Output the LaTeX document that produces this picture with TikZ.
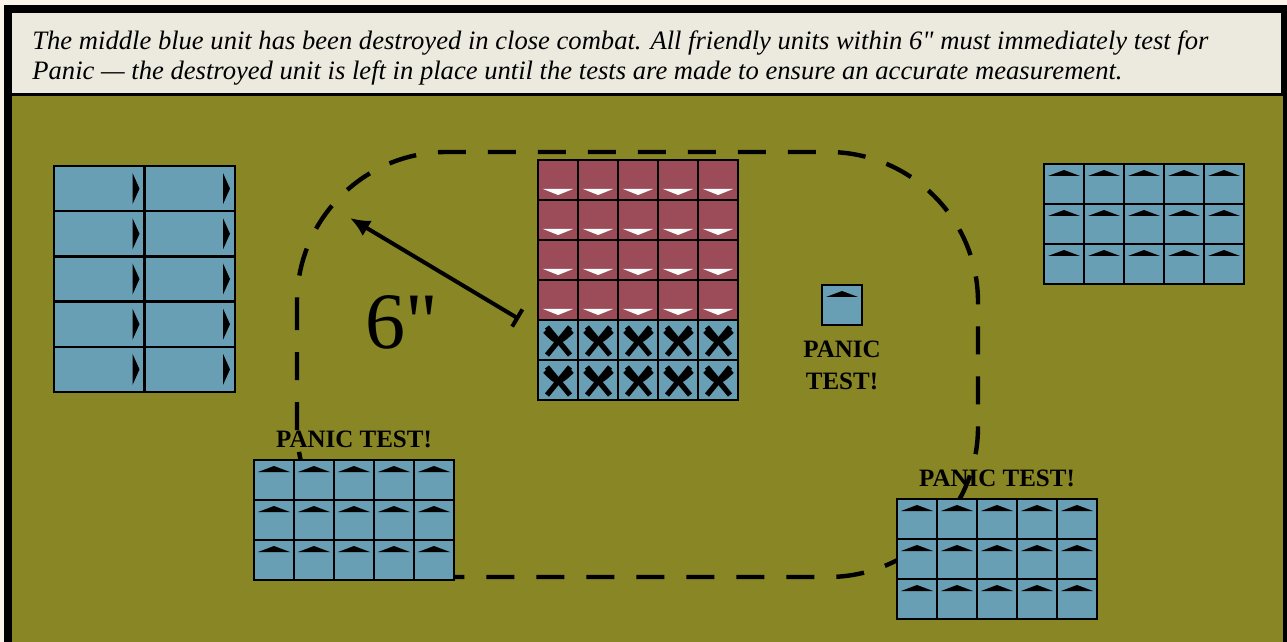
\documentclass[tikz,border=0pt]{standalone}
\usepackage{fontspec}
\setmainfont{Liberation Serif}[Ligatures=TeXOff]
\usetikzlibrary{%
    arrows.meta,%
    positioning%
    }
\definecolor{felt1}{RGB}{137,134,37}
\definecolor{paper1}{RGB}{236,233,223}
\definecolor{margin1}{RGB}{251,245,233}
\definecolor{blue1}{RGB}{104,159,180}
\definecolor{red1}{RGB}{156,76,88}
\tikzset{
  cell1/.style={
    draw=black,
    line width=1.3pt,
  },
  caption1/.style={
    font=\fontsize{13.3}{15}\selectfont\itshape,
    align=left,
    inner sep=0pt,
    anchor=north west,
  },
  panic1/.style={
    font=\fontsize{12.5}{16}\selectfont\bfseries,
    text=black,
    align=center,
    inner sep=0pt,
  },
  ring1/.style={
    dash pattern=on 14pt off 11pt,
    line width=2.2pt,
    rounded corners=75pt,
  },
  measure1/.style={
    {Bar[width=10pt]}-{Latex[length=10pt,width=9pt]},
    line width=2pt,
  },
  fallen1/.style={
    line width=2.6pt,
  },
}
% grid of cells: x, y (top left), cols, rows, width, height, fill
\newcommand{\cellgrid}[7]{%
  \foreach \c in {1,...,#3}{
    \foreach \r in {1,...,#4}{
      \draw[cell1,fill=#7]
        ({#1+(\c-1)*#5},{#2+(\r-1)*#6}) rectangle +(#5,#6);
    }
  }
}
% black wedges, facing up
\newcommand{\faceup}[4]{%
  \foreach \c in {1,...,#3}{
    \foreach \r in {1,...,#4}{
      \begin{scope}[shift={({#1+(\c-1)*40},{#2+(\r-1)*40})}]
        \fill (4,12) -- (36,12) -- (20,6) -- cycle;
      \end{scope}
    }
  }
}
% white wedges, facing down
\newcommand{\facedown}[4]{%
  \foreach \c in {1,...,#3}{
    \foreach \r in {1,...,#4}{
      \begin{scope}[shift={({#1+(\c-1)*40},{#2+(\r-1)*40})}]
        \fill[white] (5,29) -- (35,29) -- (20,35) -- cycle;
      \end{scope}
    }
  }
}
% black wedges, facing right (wide cells)
\newcommand{\faceright}[4]{%
  \foreach \c in {1,...,#3}{
    \foreach \r in {1,...,#4}{
      \begin{scope}[shift={({#1+\c*90.5},{#2+(\r-1)*45.2})}]
        \fill (-12,7) -- (-5,22.6) -- (-12,38.2) -- cycle;
      \end{scope}
    }
  }
}
% destroyed figures
\newcommand{\fallen}[4]{%
  \foreach \c in {1,...,#3}{
    \foreach \r in {1,...,#4}{
      \begin{scope}[shift={({#1+(\c-1)*40},{#2+(\r-1)*40})}]
        \draw[fallen1]
          (9,7) -- (32,35)
          (32,7) -- (9,35)
          (7,11) .. controls (20,24) .. (34,11);
      \end{scope}
    }
  }
}

\begin{document}
\begin{tikzpicture}[x=0.5pt,y=-0.5pt]
% frame
\fill[margin1] (0,0) rectangle (1287,642);
\fill[black] (4,5) rectangle (1287,642);
\fill[paper1] (12,13) rectangle (1281,93);
\fill[felt1] (12,96) rectangle (1283,642);
\useasboundingbox (0,0) rectangle (1287,642);

\node[caption1] 
  (caption) 
  at (32,30) 
  {The middle blue unit has been destroyed in close combat. All friendly units within 6" must immediately test for\\
   Panic — the destroyed unit is left in place until the tests are made to ensure an accurate measurement.};

% 6 inch zone
\draw[ring1]
  (297,152) rectangle (978,577);

\coordinate (reach) at (350,218);
\coordinate (redcorner) at (519,319);
\draw[measure1]
  (redcorner) -- (reach);
\node[font=\fontsize{40}{40}\selectfont,anchor=base] 
  (sixlabel) 
  at (402,349) 
  {6"};

% units
\cellgrid{54}{166}{2}{5}{90.5}{45.2}{blue1}
\faceright{54}{166}{2}{5}
\cellgrid{538}{160}{5}{4}{40}{40}{red1}
\facedown{538}{160}{5}{4}
\cellgrid{538}{320}{5}{2}{40}{40}{blue1}
\fallen{538}{320}{5}{2}
\cellgrid{1044}{164}{5}{3}{40}{40}{blue1}
\faceup{1044}{164}{5}{3}
\cellgrid{822}{285}{1}{1}{40}{40}{blue1}
\faceup{822}{285}{1}{1}
\cellgrid{254}{460}{5}{3}{40}{40}{blue1}
\faceup{254}{460}{5}{3}
\cellgrid{897}{499}{5}{3}{40}{40}{blue1}
\faceup{897}{499}{5}{3}

\coordinate (swunit) at (354,460);
\coordinate (seunit) at (997,499);
\coordinate (oneunit) at (842,325);

\node[panic1,above=6pt of swunit] 
  (swpanic) 
  {PANIC TEST!};
\node[panic1,above=6pt of seunit] 
  (sepanic) 
  {PANIC TEST!};
\node[panic1,below=8pt of oneunit] 
  (onepanic) 
  {PANIC\\TEST!};
\end{tikzpicture}
\end{document}
